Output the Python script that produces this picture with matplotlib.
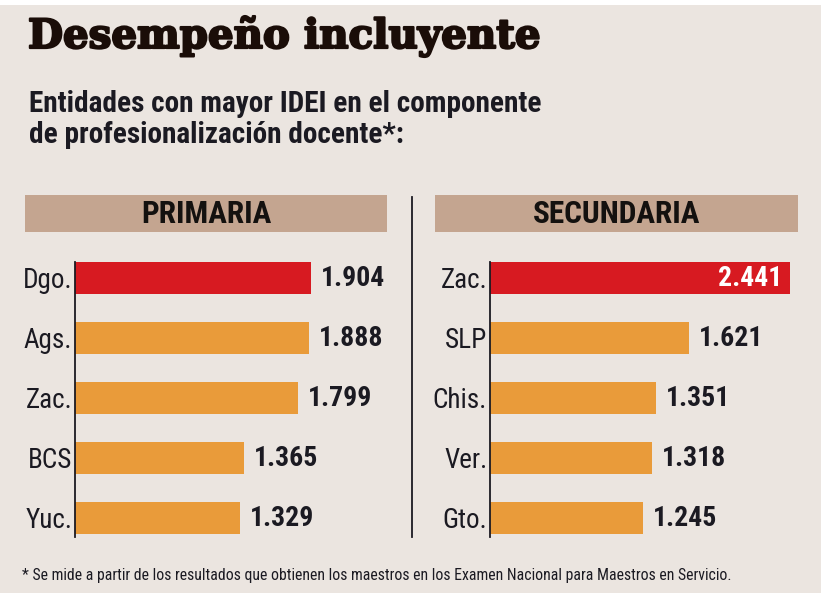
import matplotlib
matplotlib.use("Agg")
import matplotlib.pyplot as plt
import matplotlib.patheffects as pe
from matplotlib.patches import Rectangle
from matplotlib.lines import Line2D

# datos
primaria_labels = ["Dgo.", "Ags.", "Zac.", "BCS", "Yuc."]
primaria_values = [1.904, 1.888, 1.799, 1.365, 1.329]
secundaria_labels = ["Zac.", "SLP", "Chis.", "Ver.", "Gto."]
secundaria_values = [2.441, 1.621, 1.351, 1.318, 1.245]
value_texts_pri = ["1.904", "1.888", "1.799", "1.365", "1.329"]
value_texts_sec = ["2.441", "1.621", "1.351", "1.318", "1.245"]

title = "Desempeño incluyente"
subtitle = ["Entidades con mayor IDEI en el componente",
            "de profesionalización docente*:"]
footnote = ("* Se mide a partir de los resultados que obtienen los maestros "
            "en los Examen Nacional para Maestros en Servicio.")

BG = "#ebe5e0"
BAND = "#c4a590"
RED = "#d71a21"
ORANGE = "#e99b3a"
INK = "#1b1a22"
NARROW = ["Roboto Condensed", "DejaVu Sans"]

W, H = 821, 593
fig = plt.figure(figsize=(W / 100, H / 100), dpi=100, facecolor=BG)


def fx(px):
    return px / W


def fy(py):
    return 1 - py / H


def fit_width(txt, width_px):
    # ajusta el tamaño de letra para que el texto ocupe width_px
    r = fig.canvas.get_renderer()
    w = txt.get_window_extent(renderer=r).width
    txt.set_fontsize(txt.get_fontsize() * width_px / w)


# franja blanca de arriba
fig.add_artist(Rectangle((0, fy(5)), 1, 1, transform=fig.transFigure,
                         facecolor="white", edgecolor="none"))

t = fig.text(fx(28), fy(48), title, fontsize=30, fontweight="bold",
             family=["DejaVu Serif"], color="#1a0d08", va="baseline",
             path_effects=[pe.withStroke(linewidth=1.6, foreground="#1a0d08")])
fit_width(t, 512)

s1 = fig.text(fx(29), fy(112), subtitle[0], fontsize=20, fontweight="bold",
              family=NARROW, color=INK, va="baseline")
fit_width(s1, 511)
s2 = fig.text(fx(29), fy(143), subtitle[1], fontsize=s1.get_fontsize(),
              fontweight="bold", family=NARROW, color=INK, va="baseline")

f = fig.text(fx(22), fy(580), footnote, fontsize=11, family=NARROW,
             color=INK, va="baseline")
fit_width(f, 706)

# bandas de encabezado
for x0, x1, name in [(25, 387, "PRIMARIA"), (435, 798, "SECUNDARIA")]:
    fig.add_artist(Rectangle((fx(x0), fy(232)), fx(x1) - fx(x0), fy(195) - fy(232),
                             transform=fig.transFigure, facecolor=BAND,
                             edgecolor="none"))
    fig.text(fx((x0 + x1) / 2), fy(223), name, fontsize=22.5, fontweight="bold",
             family=NARROW, color="#14110f", ha="center", va="baseline")

# divisor
fig.add_artist(Line2D([fx(412), fx(412)], [fy(197), fy(537)],
                      transform=fig.transFigure, color=INK, lw=1.3))


def panel(left, right, scale, labels, values):
    ax = fig.add_axes([fx(left), fy(537), fx(right) - fx(left), fy(262) - fy(537)])
    ax.set_facecolor("none")
    ypos = list(range(len(values)))
    colors = [RED] + [ORANGE] * (len(values) - 1)
    ax.barh(ypos, values, height=32 / 60, color=colors, align="center")
    ax.set_xlim(0, (right - left) / scale)
    ax.set_ylim(4 + 19 / 60, -16 / 60)
    for sp in ["top", "right", "bottom"]:
        ax.spines[sp].set_visible(False)
    ax.spines["left"].set_color(INK)
    ax.spines["left"].set_linewidth(1.3)
    ax.set_xticks([])
    ax.set_yticks(ypos)
    ax.set_yticklabels(labels, family=NARROW, fontsize=19.5, color=INK)
    ax.tick_params(axis="y", length=0, pad=2)
    return ax


ax1 = panel(75, 387, 124, primaria_labels, primaria_values)
ax2 = panel(490, 798, 123, secundaria_labels, secundaria_values)

for i, (v, s) in enumerate(zip(primaria_values, value_texts_pri)):
    ax1.annotate(s, (v, i), xytext=(7, 0), textcoords="offset points",
                 va="center", ha="left", fontsize=20, fontweight="bold",
                 family=NARROW, color=INK)

for i, (v, s) in enumerate(zip(secundaria_values, value_texts_sec)):
    if i == 0:
        ax2.annotate(s, (v, i), xytext=(-6, 0), textcoords="offset points",
                     va="center", ha="right", fontsize=20, fontweight="bold",
                     family=NARROW, color="white")
    else:
        ax2.annotate(s, (v, i), xytext=(7, 0), textcoords="offset points",
                     va="center", ha="left", fontsize=20, fontweight="bold",
                     family=NARROW, color=INK)

fig.savefig("out.png", dpi=100, facecolor=BG)
